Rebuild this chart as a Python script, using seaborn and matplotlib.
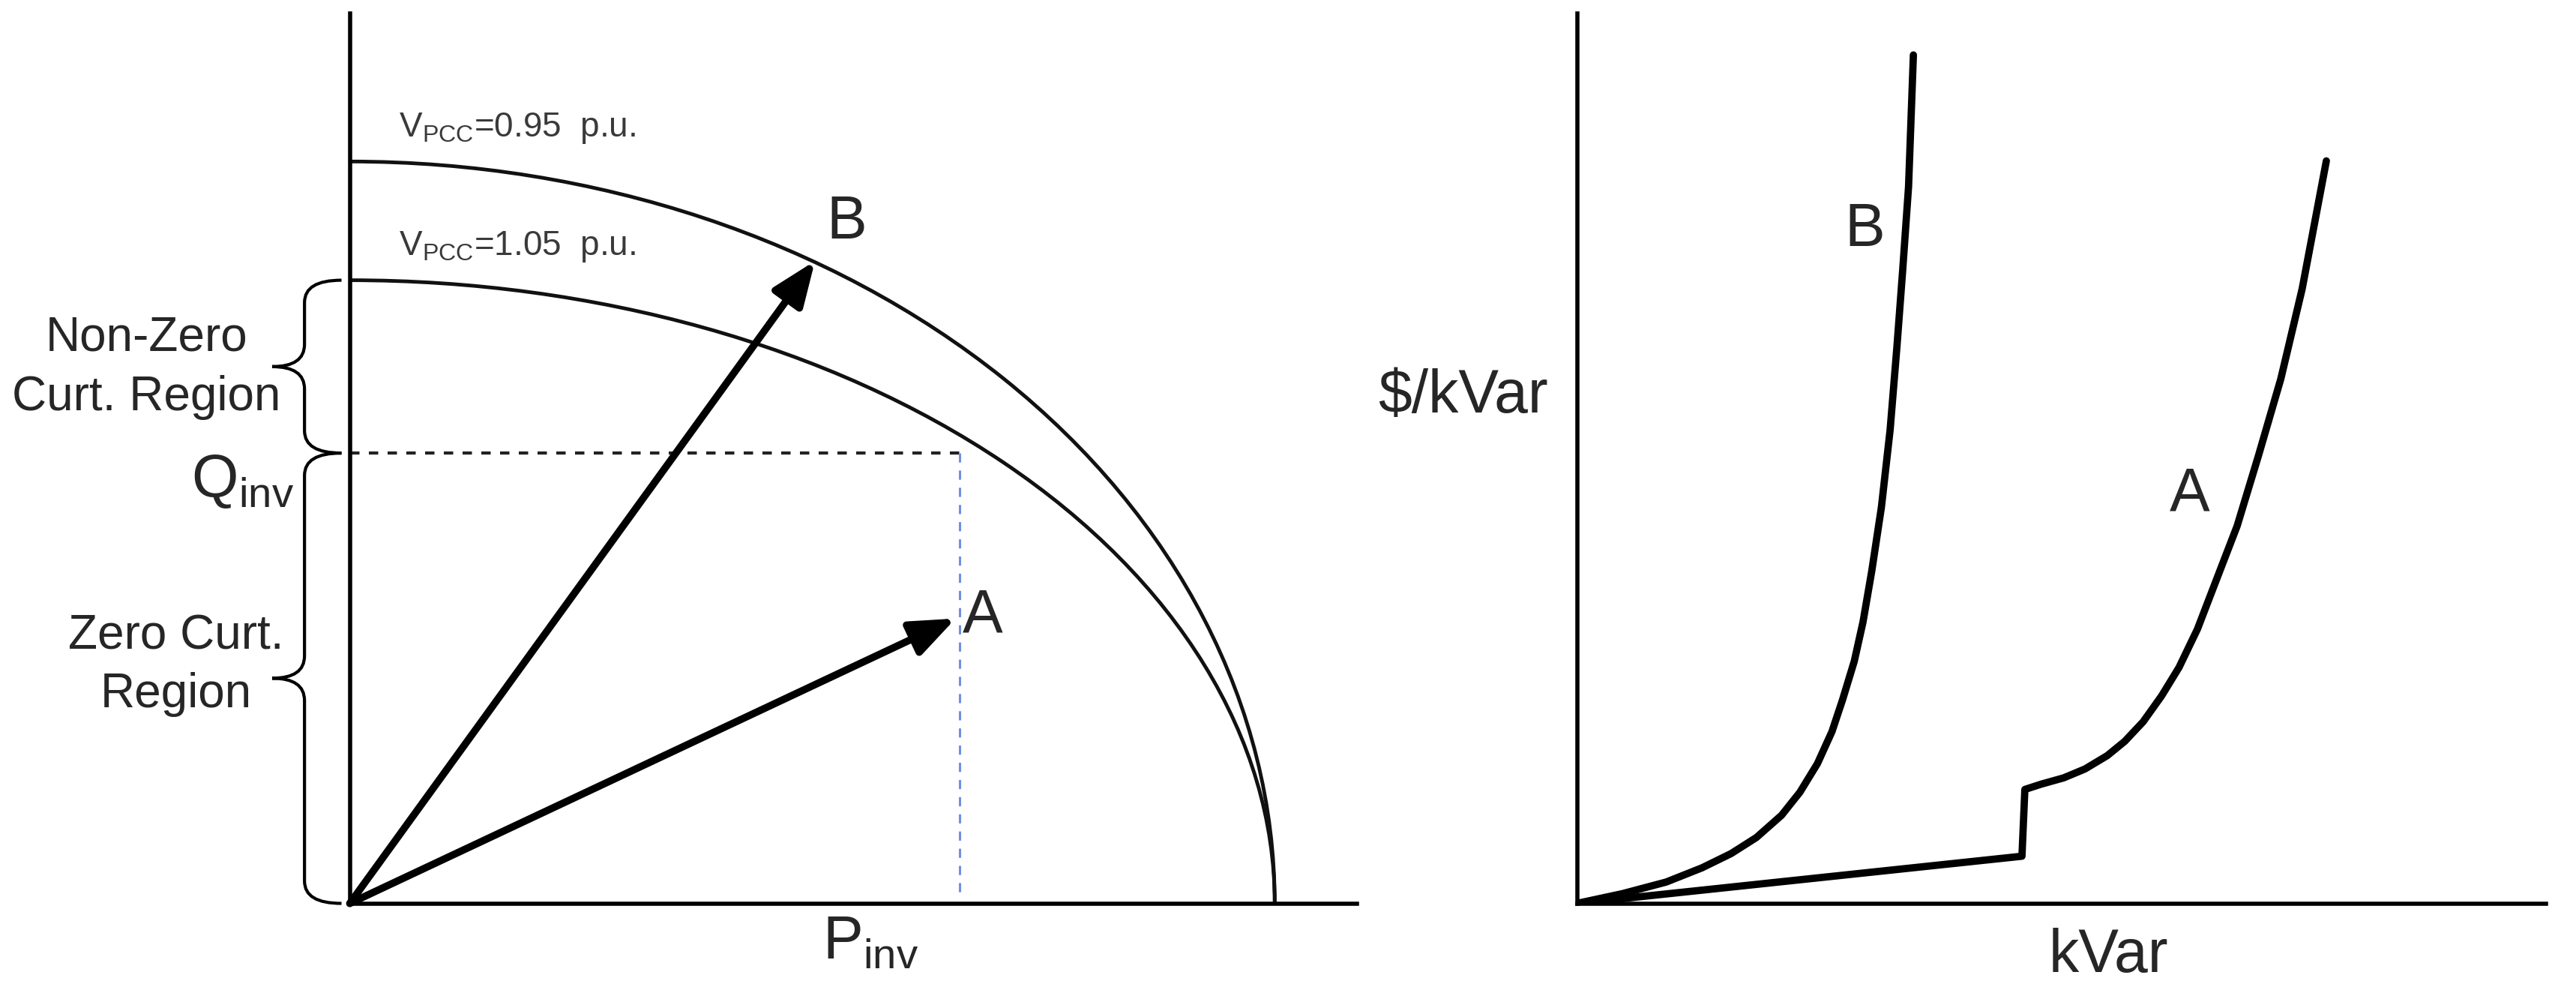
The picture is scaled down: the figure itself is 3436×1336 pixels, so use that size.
import matplotlib
matplotlib.use("Agg")
import matplotlib.pyplot as plt
import seaborn as sns
import pandas as pd
from matplotlib.patches import Arc, PathPatch
from matplotlib.path import Path

# left panel: inverter capability (P and Q in rated units)
p_max = 1.0
q_max_095 = 1.0
q_max_105 = 0.84
q_inv = 0.607
p_inv = 0.659
vec_names = ["B", "A"]
vec_p = [0.503, 0.655]
vec_q = [0.866, 0.384]

# right panel: cost curves ($/kVar vs kVar)
b_kvar = [0, 4.7, 9.2, 12.9, 15.9, 18.5, 21.1, 23.0, 24.8, 26.3, 27.4, 28.6, 29.5, 30.4, 31.4, 32.3, 33.0, 33.6, 34.2, 34.7]
b_cost = [0, 1.1, 2.4, 4.0, 5.6, 7.4, 9.9, 12.5, 15.7, 19.3, 22.9, 27.2, 31.6, 37.3, 44.5, 53.2, 62.5, 71.2, 80.5, 95.3]
a_kvar = [0, 45.9, 46.2, 47.9, 50.2, 52.4, 54.7, 56.5, 58.4, 60.3, 62.1, 64.0, 65.8, 68.1, 70.3, 72.6, 74.8, 77.3]
a_cost = [0, 5.3, 12.8, 13.4, 14.1, 15.1, 16.6, 18.2, 20.4, 23.3, 26.5, 30.8, 35.9, 42.4, 50.3, 58.9, 69.0, 83.4]

sns.set_theme(style="white")
plt.rcParams['font.family'] = ['Liberation Sans', 'DejaVu Sans']
big = 58

fig = plt.figure(figsize=(34.36, 13.36), dpi=100)
ax1 = fig.add_axes([0.1358, 0.0984, 0.391, 0.8885])
ax2 = fig.add_axes([0.6122, 0.0984, 0.3763, 0.8885])

for ax in (ax1, ax2):
    for s in ("top", "right"):
        ax.spines[s].set_visible(False)
    for s in ("left", "bottom"):
        ax.spines[s].set_color("black")
        ax.spines[s].set_linewidth(4)
    ax.set_xticks([])
    ax.set_yticks([])

# ---- left panel
ax1.set_xlim(0, 1.089)
ax1.set_ylim(0, 1.2)
ax1.add_patch(Arc((0, 0), 2 * p_max, 2 * q_max_095, theta1=0, theta2=90, color="#111111", lw=3.5))
ax1.add_patch(Arc((0, 0), 2 * p_max, 2 * q_max_105, theta1=0, theta2=90, color="#111111", lw=3.5))
ax1.plot([0, p_inv], [q_inv, q_inv], ls=(0, (3, 3)), color="#222222", lw=3)
ax1.plot([p_inv, p_inv], [q_inv, 0.01], ls=(0, (4, 3.5)), color="#7090e0", lw=2.2)

for name, p, q in zip(vec_names, vec_p, vec_q):
    ax1.annotate("", xy=(p, q), xytext=(0, 0),
                 arrowprops=dict(arrowstyle="-|>,head_length=0.45,head_width=0.18",
                                 mutation_scale=80, lw=7, color="black",
                                 shrinkA=0, shrinkB=0))
ax1.text(0.537, 0.917, "B", fontsize=big, ha="center", va="center")
ax1.text(0.684, 0.387, "A", fontsize=big, ha="center", va="center")

ax1.text(0.053, 1.034, r"V$_{\mathregular{PCC}}$=0.95  p.u.", fontsize=33,
         color="#3a3a3a", va="baseline")
ax1.text(0.053, 0.874, r"V$_{\mathregular{PCC}}$=1.05  p.u.", fontsize=33,
         color="#3a3a3a", va="baseline")
ax1.text(-0.06, q_inv, r"Q$_{\mathregular{inv}}$", fontsize=big, ha="right", va="top")
ax1.text(0.511, -0.015, r"P$_{\mathregular{inv}}$", fontsize=big, ha="left", va="top")

region_lines = [("Non-Zero", -0.22, 0.745), ("Curt. Region", -0.22, 0.665),
                ("Zero Curt.", -0.188, 0.343), ("Region", -0.188, 0.264)]
for txt, x, y in region_lines:
    ax1.text(x, y, txt, fontsize=46, ha="center", va="baseline")


def brace(ax, y0, y1, x=-0.049, h=0.04, t=0.035, r=0.03):
    ym = (y0 + y1) / 2
    verts = [(x + h, y1), (x, y1), (x, y1 - r), (x, ym + r), (x, ym), (x - t, ym),
             (x, ym), (x, ym - r), (x, y0 + r), (x, y0), (x + h, y0)]
    codes = [Path.MOVETO, Path.CURVE3, Path.CURVE3, Path.LINETO, Path.CURVE3, Path.CURVE3,
             Path.CURVE3, Path.CURVE3, Path.LINETO, Path.CURVE3, Path.CURVE3]
    ax.add_patch(PathPatch(Path(verts, codes), fill=False, lw=3, color="black", clip_on=False))


brace(ax1, q_inv, q_max_105)
brace(ax1, 0, q_inv)

# ---- right panel
ax2.set_xlim(0, 100)
ax2.set_ylim(0, 100)
cost = pd.concat([
    pd.DataFrame({"kVar": b_kvar, "cost": b_cost, "case": "B"}),
    pd.DataFrame({"kVar": a_kvar, "cost": a_cost, "case": "A"}),
])
for case, d in cost.groupby("case"):
    sns.lineplot(data=d, x="kVar", y="cost", sort=False, estimator=None,
                 color="black", linewidth=7, ax=ax2)
ax2.set_xlabel("")
ax2.set_ylabel("")
ax2.text(29.7, 75.6, "B", fontsize=big, ha="center", va="center")
ax2.text(63.2, 45.9, "A", fontsize=big, ha="center", va="center")
ax2.text(-3.0, 55.1, "$/kVar", fontsize=big, ha="right", va="baseline")
ax2.text(54.8, -2.7, "kVar", fontsize=big, ha="center", va="top")

fig.savefig("out.png", dpi=100, facecolor="white")
